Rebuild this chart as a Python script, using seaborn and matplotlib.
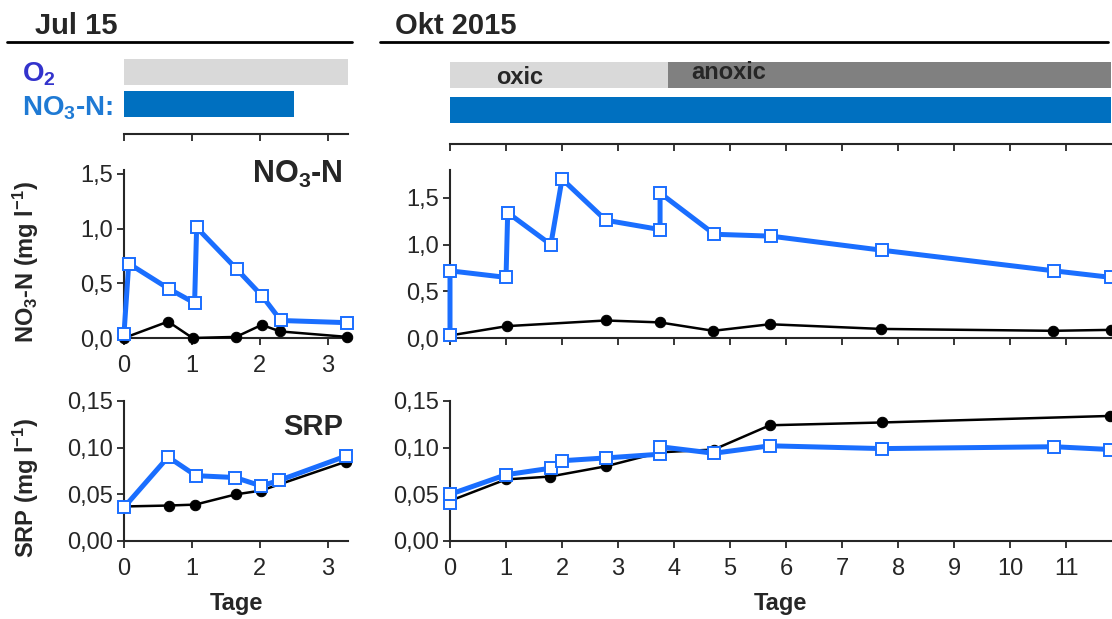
import matplotlib
matplotlib.use("Agg")
import matplotlib.pyplot as plt
import seaborn as sns
from matplotlib.lines import Line2D
from matplotlib.ticker import FuncFormatter

# ---- data (Tage, mg/l) ----
# Jul 15, NO3-N
jul_no3_blue_t = [0, 0.07, 0.66, 1.04, 1.07, 1.66, 2.04, 2.31, 3.29]
jul_no3_blue = [0.04, 0.68, 0.45, 0.32, 1.01, 0.63, 0.38, 0.16, 0.14]
jul_no3_black_t = [0, 0.65, 1.01, 1.65, 2.03, 2.30, 3.29]
jul_no3_black = [0.0, 0.15, 0.0, 0.01, 0.12, 0.06, 0.01]

# Jul 15, SRP
jul_srp_blue_t = [0, 0.65, 1.06, 1.64, 2.02, 2.29, 3.27]
jul_srp_blue = [0.036, 0.090, 0.070, 0.068, 0.059, 0.065, 0.091]
jul_srp_black_t = [0, 0.66, 1.05, 1.65, 2.02, 3.27]
jul_srp_black = [0.037, 0.038, 0.039, 0.050, 0.054, 0.085]

# Okt 2015, NO3-N
okt_no3_blue_t = [0, 0, 1.0, 1.03, 1.8, 2.0, 2.78, 3.75, 3.75, 4.72, 5.73, 7.71, 10.78, 11.8]
okt_no3_blue = [0.04, 0.72, 0.65, 1.34, 1.0, 1.70, 1.26, 1.16, 1.55, 1.11, 1.09, 0.94, 0.72, 0.65]
okt_no3_black_t = [0, 1.02, 2.78, 3.74, 4.7, 5.71, 7.7, 10.77, 11.8]
okt_no3_black = [0.03, 0.13, 0.19, 0.17, 0.08, 0.15, 0.10, 0.08, 0.09]

# Okt 2015, SRP
okt_srp_blue_t = [0, 0, 1.0, 1.8, 2.0, 2.78, 3.75, 3.75, 4.71, 5.71, 7.72, 10.79, 11.79]
okt_srp_blue = [0.041, 0.050, 0.071, 0.078, 0.086, 0.089, 0.093, 0.101, 0.094, 0.102, 0.099, 0.101, 0.098]
okt_srp_black_t = [0, 1.0, 1.78, 2.78, 3.75, 4.71, 5.71, 7.72, 11.79]
okt_srp_black = [0.043, 0.066, 0.069, 0.080, 0.095, 0.098, 0.124, 0.127, 0.134]

# condition bars (start, end in Tage)
jul_o2 = (0, 3.3)
jul_no3_bar = (0, 2.5)
okt_oxic = (0, 3.9)
okt_anoxic = (3.9, 11.8)
okt_no3_bar = (0, 11.8)

jul_xmax = 3.3
okt_xmax = 11.8

BLUE = "#1a6eff"
BAR_BLUE = "#0070c0"

sns.set_style("ticks")
plt.rcParams['font.family'] = ['Liberation Sans', 'DejaVu Sans']
plt.rcParams['mathtext.default'] = 'regular'
plt.rcParams['axes.linewidth'] = 1.5
plt.rcParams['xtick.major.width'] = 1.3
plt.rcParams['ytick.major.width'] = 1.3
plt.rcParams['xtick.major.size'] = 5
plt.rcParams['ytick.major.size'] = 5
plt.rcParams['xtick.direction'] = 'out'
plt.rcParams['ytick.direction'] = 'out'
plt.rcParams['xtick.labelsize'] = 17
plt.rcParams['ytick.labelsize'] = 17

W, H = 1112, 619
fig = plt.figure(figsize=(W / 100, H / 100), dpi=100)


def px_axes(l, t, r, b):
    return fig.add_axes([l / W, 1 - b / H, (r - l) / W, (b - t) / H])


def comma(dec):
    return FuncFormatter(lambda v, p: f"{v:.{dec}f}".replace('.', ','))


def draw(ax, bt, by, kt, ky):
    sns.lineplot(x=kt, y=ky, ax=ax, color='black', lw=1.8, marker='o',
                 markersize=7.5, mfc='black', mec='black', sort=False,
                 estimator=None, clip_on=False, zorder=3)
    sns.lineplot(x=bt, y=by, ax=ax, color=BLUE, lw=3.6, marker='s',
                 markersize=9, mfc='white', mec=BLUE, mew=1.4, sort=False,
                 estimator=None, clip_on=False, zorder=4)
    sns.despine(ax=ax)
    ax.set_xlabel('')
    ax.set_ylabel('')


# ---- top condition bars ----
axb1 = px_axes(124, 55, 348, 134)
axb1.barh(1, jul_o2[1] - jul_o2[0], left=jul_o2[0], height=0.81, color='#d9d9d9', lw=0)
axb1.barh(0, jul_no3_bar[1] - jul_no3_bar[0], left=jul_no3_bar[0], height=0.81, color=BAR_BLUE, lw=0)
axb1.set_xlim(0, jul_xmax)
axb1.set_ylim(-0.94, 1.53)

axb2 = px_axes(450, 55, 1111, 144)
axb2.barh(1, okt_oxic[1] - okt_oxic[0], left=okt_oxic[0], height=0.74, color='#d9d9d9', lw=0)
axb2.barh(1, okt_anoxic[1] - okt_anoxic[0], left=okt_anoxic[0], height=0.74, color='#808080', lw=0)
axb2.barh(0, okt_no3_bar[1] - okt_no3_bar[0], left=okt_no3_bar[0], height=0.74, color=BAR_BLUE, lw=0)
axb2.set_xlim(0, okt_xmax)
axb2.set_ylim(-0.97, 1.57)
axb2.text(1.25, 0.92, 'oxic', ha='center', va='center', fontsize=17, fontweight='bold')
axb2.text(4.3, 1.06, 'anoxic', ha='left', va='center', fontsize=17, fontweight='bold')

for ax in (axb1, axb2):
    sns.despine(ax=ax, left=True)
    ax.set_yticks([])
    ax.tick_params(axis='x', labelbottom=False)
axb1.set_xticks(range(0, 4))
axb2.set_xticks(range(0, 12))

# ---- NO3-N panels ----
ax1 = px_axes(124, 169.5, 348, 338)
draw(ax1, jul_no3_blue_t, jul_no3_blue, jul_no3_black_t, jul_no3_black)
ax1.set_xlim(0, jul_xmax)
ax1.set_ylim(0, 1.54)
ax1.set_yticks([0, 0.5, 1.0, 1.5])
ax1.set_xticks(range(0, 4))
ax1.yaxis.set_major_formatter(comma(1))
ax1.set_ylabel('NO$_3$-N (mg l$^{-1}$)', fontsize=17, fontweight='bold')
ax1.yaxis.set_label_coords(-0.37, 0.45)
ax1.text(0.978, 0.92, 'NO$_3$-N', transform=ax1.transAxes, ha='right',
         va='baseline', fontsize=22, fontweight='bold')

ax2 = px_axes(450, 169.6, 1111, 338.3)
draw(ax2, okt_no3_blue_t, okt_no3_blue, okt_no3_black_t, okt_no3_black)
ax2.set_xlim(0, okt_xmax)
ax2.set_ylim(0, 1.8)
ax2.set_yticks([0, 0.5, 1.0, 1.5])
ax2.set_xticks(range(0, 12))
ax2.tick_params(axis='x', labelbottom=False)
ax2.yaxis.set_major_formatter(comma(1))

# ---- SRP panels ----
ax3 = px_axes(124, 401, 348, 541)
draw(ax3, jul_srp_blue_t, jul_srp_blue, jul_srp_black_t, jul_srp_black)
ax3.set_xlim(0, jul_xmax)
ax3.set_ylim(0, 0.15)
ax3.set_yticks([0, 0.05, 0.10, 0.15])
ax3.set_xticks(range(0, 4))
ax3.yaxis.set_major_formatter(comma(2))
ax3.set_ylabel('SRP (mg l$^{-1}$)', fontsize=17, fontweight='bold')
ax3.yaxis.set_label_coords(-0.37, 0.38)
ax3.set_xlabel('Tage', fontsize=17, fontweight='bold', labelpad=9)
ax3.text(0.978, 0.757, 'SRP', transform=ax3.transAxes, ha='right',
         va='baseline', fontsize=21, fontweight='bold')

ax4 = px_axes(450, 401, 1111, 541)
draw(ax4, okt_srp_blue_t, okt_srp_blue, okt_srp_black_t, okt_srp_black)
ax4.set_xlim(0, okt_xmax)
ax4.set_ylim(0, 0.15)
ax4.set_yticks([0, 0.05, 0.10, 0.15])
ax4.set_xticks(range(0, 12))
ax4.yaxis.set_major_formatter(comma(2))
ax4.set_xlabel('Tage', fontsize=17, fontweight='bold', labelpad=9)

for ax in (ax1, ax2, ax3, ax4):
    ax.tick_params(axis='x', pad=7)
    ax.tick_params(axis='y', pad=3)

# ---- headers and side labels ----
fig.text(35 / W, 1 - 34 / H, 'Jul 15', fontsize=21, fontweight='bold', va='baseline')
fig.text(395 / W, 1 - 34 / H, 'Okt 2015', fontsize=21, fontweight='bold', va='baseline')
fig.add_artist(Line2D([7 / W, 352 / W], [1 - 41.5 / H] * 2, color='black', lw=2))
fig.add_artist(Line2D([380 / W, 1108 / W], [1 - 41.5 / H] * 2, color='black', lw=2))
fig.text(22 / W, 1 - 82 / H, 'O$_2$', fontsize=20, fontweight='bold', color='#3333cc', va='baseline')
fig.text(22 / W, 1 - 116 / H, 'NO$_3$-N:', fontsize=20, fontweight='bold', color='#1f7ad4', va='baseline')

fig.savefig('out.png', dpi=100)
